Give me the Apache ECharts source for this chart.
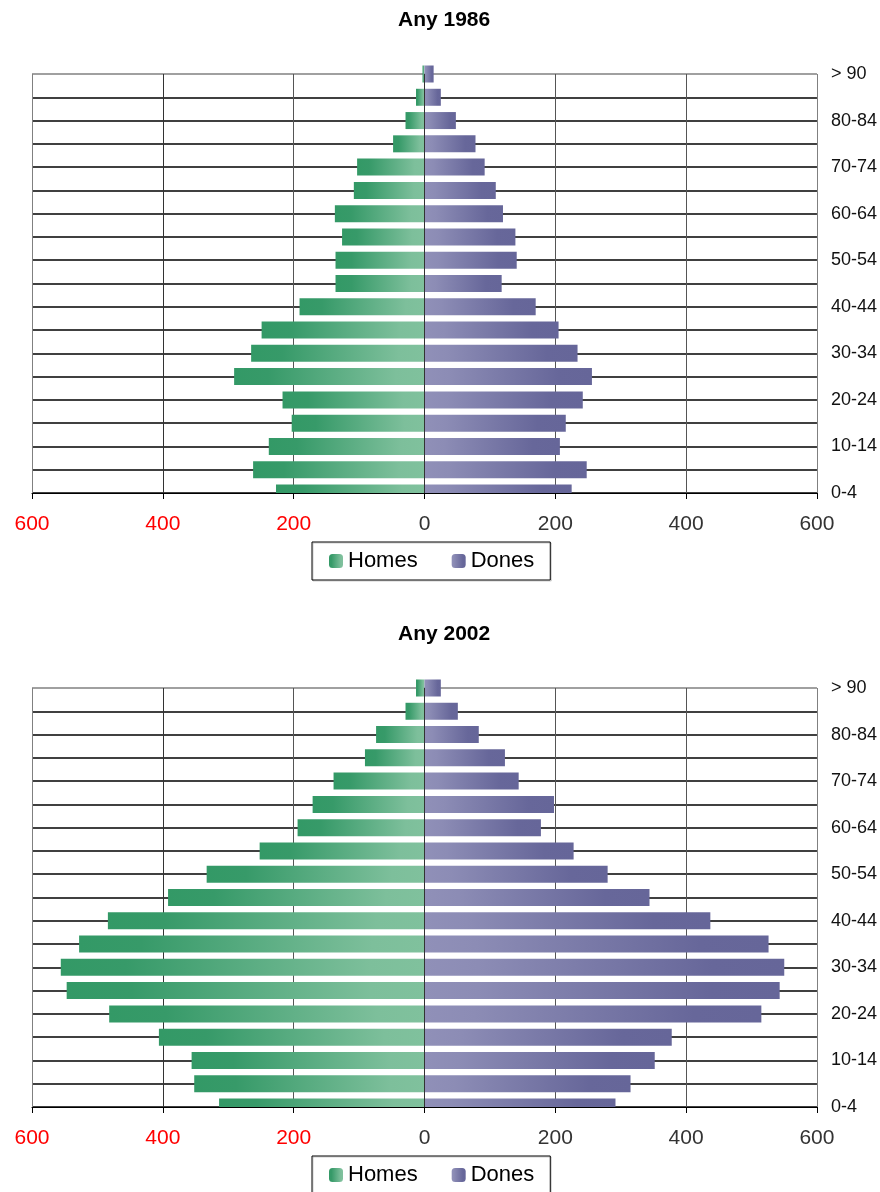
<!DOCTYPE html>
<html lang="ca">
<head>
  <meta charset="UTF-8">
  <title>Piràmides</title>
  <style>body{margin:0;background:#fff}</style>
</head>
<body>
<div id="main" style="width: 880px;height:1192px;"></div>
<script src="https://cdn.jsdelivr.net/npm/echarts@6/dist/echarts.min.js"></script>
<script>
// grups d'edat, de baix a dalt
var categories = ['0-4', '5-9', '10-14', '15-19', '20-24', '25-29', '30-34', '35-39', '40-44',
  '45-49', '50-54', '55-59', '60-64', '65-69', '70-74', '75-79', '80-84', '85-89', '> 90'];

var homes1986 = [227, 262, 238, 203, 217, 291, 265, 249, 191, 136, 136, 126, 137, 108, 103, 48, 29, 13, 3];
var dones1986 = [225, 248, 207, 216, 242, 256, 234, 205, 170, 118, 141, 139, 120, 109, 92, 78, 48, 25, 14];

var homes2002 = [314, 352, 356, 406, 482, 547, 556, 528, 484, 392, 333, 252, 194, 171, 139, 91, 74, 29, 13];
var dones2002 = [292, 315, 352, 378, 515, 543, 550, 526, 437, 344, 280, 228, 178, 198, 144, 123, 83, 51, 25];

var titles = ['Any 1986', 'Any 2002'];

var FONT = '"Liberation Sans", Arial, sans-serif';

var greenGrad = new echarts.graphic.LinearGradient(0, 0, 1, 0, [
  {offset: 0, color: '#339966'},
  {offset: 0.18, color: '#379a69'},
  {offset: 0.85, color: '#7dbf9b'},
  {offset: 1, color: '#80c19d'}
]);
var blueGrad = new echarts.graphic.LinearGradient(0, 0, 1, 0, [
  {offset: 0, color: '#9090b8'},
  {offset: 0.15, color: '#8c8cb5'},
  {offset: 0.8, color: '#67679a'},
  {offset: 1, color: '#666699'}
]);

var myChart = echarts.init(document.getElementById('main'));

var GRID_LEFT = 32, GRID_W = 786, GRID_H = 419;
var tops = [74, 688];
var option = {
  animation: false,
  title: [], legend: [], grid: [], xAxis: [], yAxis: [], series: [], graphic: []
};

[[homes1986, dones1986], [homes2002, dones2002]].forEach(function (pair, i) {
  var top = tops[i];
  option.title.push({
    text: titles[i], left: 398, top: top - 64, padding: 0,
    textStyle: {fontFamily: FONT, fontSize: 21, fontWeight: 'bold', color: '#000'}
  });
  option.legend.push({
    data: ['Homes', 'Dones'],
    left: 312, top: top + 468,
    orient: 'horizontal',
    borderColor: '#000', borderWidth: 1,
    padding: [8, 16, 8, 17],
    itemGap: 34, itemWidth: 14, itemHeight: 14,
    selectedMode: false,
    shadowColor: 'rgba(0,0,0,0.2)', shadowOffsetX: 1, shadowOffsetY: 1,
    textStyle: {fontFamily: FONT, fontSize: 22, color: '#000'}
  });
  option.grid.push({left: GRID_LEFT, width: GRID_W, top: top, height: GRID_H});
  // eix per a les línies verticals (sota les barres)
  option.xAxis.push({
    type: 'value', gridIndex: i, position: 'top', min: -600, max: 600, interval: 200,
    axisLine: {show: false}, axisTick: {show: false}, axisLabel: {show: false},
    splitLine: {show: true, lineStyle: {color: ['#808080', '#333', '#555', '#333', '#555', '#555', '#808080']}}
  });
  // eix visible amb etiquetes (per sobre de la màscara)
  option.xAxis.push({
    type: 'value', gridIndex: i, position: 'bottom', min: -600, max: 600, interval: 200, z: 10,
    axisLine: {show: true, onZero: false, lineStyle: {color: '#000', width: 1}},
    axisTick: {show: true, length: 6, lineStyle: {color: '#000'}},
    axisLabel: {
      margin: 21, fontFamily: FONT, fontSize: 21,
      formatter: function (v) { return Math.abs(v); },
      color: function (v) { return Number(v) < 0 ? '#ff0000' : '#333'; }
    },
    splitLine: {show: false}
  });
  var hColors = categories.map(function (c, k) { return k === categories.length - 1 ? '#808080' : '#000'; });
  option.yAxis.push({
    type: 'category', gridIndex: i, position: 'right', boundaryGap: false,
    data: categories,
    axisLine: {show: false},
    axisTick: {show: false, interval: 0},
    axisLabel: {interval: 1, margin: 14, fontFamily: FONT, fontSize: 18, color: '#111'},
    splitLine: {show: true, interval: 0, lineStyle: {color: hColors, width: 1.5}}
  });
  option.series.push({
    name: 'Homes', type: 'bar', xAxisIndex: i * 2, yAxisIndex: i,
    barWidth: 17, barGap: '-100%',
    itemStyle: {color: greenGrad},
    data: pair[0].map(function (v) { return -v; })
  });
  option.series.push({
    name: 'Dones', type: 'bar', xAxisIndex: i * 2, yAxisIndex: i,
    barWidth: 17, barGap: '-100%',
    itemStyle: {color: blueGrad},
    data: pair[1],
    markLine: {
      silent: true, symbol: 'none', label: {show: false},
      lineStyle: {color: '#333', width: 1, type: 'solid'},
      data: [{xAxis: 0}]
    }
  });
  // retalla la meitat inferior de la primera barra, com a l'original
  option.graphic.push({
    type: 'rect', z: 5, silent: true,
    shape: {x: GRID_LEFT - 1, y: top + GRID_H + 0.5, width: GRID_W + 2, height: 10},
    style: {fill: '#fff'}
  });
});

myChart.setOption(option);
</script>
</body>
</html>
